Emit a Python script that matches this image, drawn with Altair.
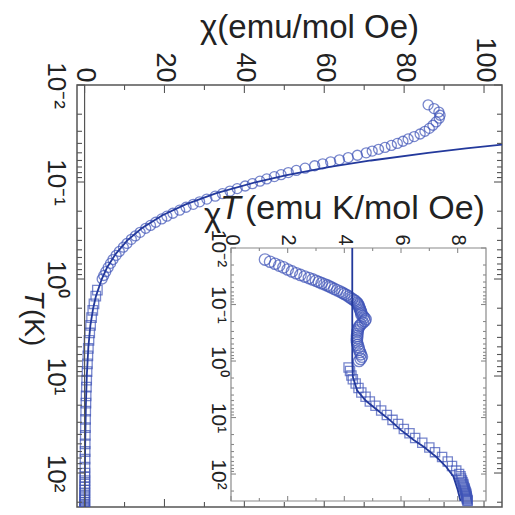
import altair as alt
import pandas as pd

FONT = "Liberation Sans"
BLUE = "#3f54b8"
LINE = "#23399c"
FRAME = "#555555"
IFRAME = "#8a8a8a"

# ---------------- data ----------------
# low-temperature points (circles), shared temperature grid
T_circ = [0.016, 0.0175, 0.019, 0.0205, 0.022, 0.024, 0.026, 0.028, 0.030, 0.032,
          0.034, 0.036, 0.038, 0.040, 0.042, 0.044, 0.046, 0.048, 0.050, 0.053,
          0.056, 0.059, 0.062, 0.065, 0.068, 0.072, 0.076, 0.080, 0.084, 0.088,
          0.093, 0.098, 0.104, 0.110, 0.117, 0.124, 0.132, 0.140, 0.150, 0.160,
          0.170, 0.182, 0.195, 0.21, 0.225, 0.24, 0.26, 0.28, 0.30, 0.33,
          0.36, 0.39, 0.43, 0.47, 0.52, 0.57, 0.63, 0.69, 0.76, 0.84, 0.92, 1.0]
chi_circ = [86, 87.5, 88.7, 89, 88.8, 88, 87.2, 86.3, 85.2, 84,
            82.5, 81, 79.7, 78.3, 76.8, 75.2, 73.6, 72, 70.5, 68.3,
            66, 63.8, 61.6, 59.6, 57.6, 55.2, 53, 51, 49.2, 47.5,
            45.6, 43.9, 42, 40.2, 38.2, 36.4, 34.5, 32.7, 30.6, 28.8,
            27.2, 25.4, 23.8, 22.1, 20.6, 19.3, 17.8, 16.5, 15.3, 13.9,
            12.7, 11.7, 10.6, 9.7, 8.7, 7.9, 7.1, 6.5, 5.9, 5.3, 4.8, 4.4]
chiT_circ = [1.2, 1.38, 1.55, 1.7, 1.85, 2.0, 2.15, 2.3, 2.45, 2.6,
             2.75, 2.88, 3.0, 3.1, 3.2, 3.3, 3.4, 3.48, 3.55, 3.65,
             3.75, 3.85, 3.93, 4.0, 4.08, 4.15, 4.22, 4.28, 4.35, 4.4,
             4.45, 4.48, 4.5, 4.52, 4.54, 4.56, 4.58, 4.6, 4.6, 4.65,
             4.7, 4.75, 4.72, 4.65, 4.58, 4.54, 4.5, 4.48, 4.47, 4.46,
             4.45, 4.45, 4.44, 4.45, 4.47, 4.5, 4.52, 4.55, 4.58, 4.62, 4.58, 4.52]

# higher-temperature points (squares)
T_sq = [1.3, 1.5, 1.8, 2.1, 2.5, 3.0, 3.6, 4.3, 5.2, 6.2, 7.5, 9, 11, 13, 16, 19,
        23, 28, 34, 41, 50, 60, 72, 87,
        100, 110, 120, 130, 140, 150, 160, 170, 180, 190, 200, 210, 220, 230,
        240, 250, 260, 270, 280, 290, 300]
chi_sq = [3.2, 2.8, 2.35, 2.05, 1.75, 1.5, 1.28, 1.1, 0.94, 0.82, 0.71, 0.61, 0.52,
          0.45, 0.38, 0.33, 0.28, 0.24, 0.21, 0.18, 0.15, 0.13, 0.11, 0.092,
          0.081, 0.074, 0.068, 0.063, 0.059, 0.055, 0.052, 0.049, 0.046, 0.044,
          0.041, 0.040, 0.038, 0.036, 0.035, 0.033, 0.032, 0.031, 0.030, 0.029, 0.028]
chiT_sq = [4.15, 4.2, 4.25, 4.3, 4.4, 4.5, 4.6, 4.75, 4.9, 5.1, 5.3, 5.5, 5.7,
           5.9, 6.1, 6.3, 6.5, 6.75, 7.0, 7.2, 7.45, 7.65, 7.8, 7.95,
           8.05, 8.1, 8.12, 8.15, 8.17, 8.2, 8.2, 8.22, 8.25, 8.25,
           8.27, 8.28, 8.3, 8.3, 8.3, 8.32, 8.32, 8.33, 8.33, 8.35, 8.35]

# fitted curves
T_fit = [0.038, 0.04, 0.045, 0.05, 0.06, 0.07, 0.085, 0.1, 0.13, 0.17, 0.22, 0.3, 0.4,
         0.55, 0.75, 1, 1.5, 2, 3, 5, 10, 20, 50, 100, 300]
chi_fit = [113, 107.5, 95.5, 86, 71.7, 61.4, 50.6, 43, 33, 25.3, 19.5, 14.3, 10.7,
           7.8, 5.7, 4.3, 2.85, 2.15, 1.45, 0.95, 0.55, 0.32, 0.15, 0.08, 0.028]
T_fit_in = [0.01, 1.0, 1.9, 3.3, 5, 7.3, 11, 16.7, 25, 33, 50, 75, 110, 190, 300]
chiT_fit_in = [4.28, 4.28, 4.3, 4.45, 4.75, 5.15, 5.6, 6.0, 6.45, 6.8, 7.25, 7.6,
               7.85, 8.0, 8.1]

# axis ticks / labels
main_x_labels = [0, 20, 40, 60, 80, 100]
main_x_minor = [10, 30, 50, 70, 90]
inset_x_labels = [0, 2, 4, 6, 8]
inset_x_minor = [1, 3, 5, 7]
log_labels = [0.01, 0.1, 1, 10, 100]
log_minor = [2, 3, 4, 5, 6, 7, 8, 9]

main_minor = [m * d for d in [0.01, 0.1, 1, 10, 100] for m in log_minor if m * d < 224]
inset_minor = [m * d for d in [0.01, 0.1, 1, 10, 100] for m in log_minor if m * d < 300]

W, H = 425, 422
IX = [154, 409]
IY = [163, 416]

label_expr = ("datum.value < 0.05 ? '10\u207b\u00b2' : datum.value < 0.5 ? '10\u207b\u00b9' : "
              "datum.value < 5 ? '10\u2070' : datum.value < 50 ? '10\u00b9' : '10\u00b2'")

xs = alt.Scale(domain=[-1.9, 104.5], nice=False, zero=False)
ys = alt.Scale(type="log", domain=[0.01, 224], reverse=True, nice=False)
xi = alt.Scale(domain=[0, 9], range=IX, nice=False, zero=False)
yi = alt.Scale(type="log", domain=[0.01, 300], range=IY, nice=False)

main_x_axis = alt.Axis(orient="top", values=main_x_labels, labelAngle=90, labelAlign="right",
                       labelBaseline="middle", labelPadding=3, ticks=False, domain=False,
                       grid=False, labelFontSize=27, labelFont=FONT, labelColor="#222",
                       title="\u03c7(emu/mol Oe)", titleFont=FONT, titleFontSize=33,
                       titleFontWeight="normal", titleColor="#222", titleX=232, titleY=-48,
                       titleAlign="center", titleBaseline="alphabetic")
main_y_axis = alt.Axis(orient="left", values=log_labels, labelExpr=label_expr, labelAngle=90,
                       labelAlign="center", labelBaseline="top", labelPadding=9, ticks=False,
                       domain=False, grid=False, labelFontSize=26, labelFont=FONT,
                       labelColor="#222", title=None)
inset_x_axis = alt.Axis(orient="top", offset=-IY[0], values=inset_x_labels, labelAngle=90,
                        labelAlign="right", labelBaseline="middle", labelPadding=3, ticks=False,
                        domain=False, grid=False, labelFontSize=20, labelFont=FONT,
                        labelColor="#222", title=None)
inset_y_axis = alt.Axis(orient="left", offset=-IX[0], values=log_labels, labelExpr=label_expr,
                        labelAngle=90, labelAlign="center", labelBaseline="top", labelPadding=3,
                        ticks=False, domain=False, grid=False, labelFontSize=21, labelFont=FONT,
                        labelColor="#222", title=None)

df_mc = pd.DataFrame({"chi": chi_circ, "T": T_circ})
df_ms = pd.DataFrame({"chi": chi_sq, "T": T_sq})
df_mf = pd.DataFrame({"chi": chi_fit, "T": T_fit})
df_ic = pd.DataFrame({"chi": chiT_circ, "T": T_circ})
df_is = pd.DataFrame({"chi": chiT_sq, "T": T_sq})
df_if = pd.DataFrame({"chi": chiT_fit_in, "T": T_fit_in})


def xrule(vals, scale, y0, y1, color, sw=1.1):
    return alt.Chart(pd.DataFrame({"chi": vals})).mark_rule(color=color, strokeWidth=sw).encode(
        x=alt.X("chi:Q", scale=scale), y=alt.value(y0), y2=alt.value(y1))


def yrule(vals, scale, x0, x1, color, sw=1.1):
    return alt.Chart(pd.DataFrame({"T": vals})).mark_rule(color=color, strokeWidth=sw).encode(
        y=alt.Y("T:Q", scale=scale), x=alt.value(x0), x2=alt.value(x1))


def text(s, x, y, size, angle=0, style="normal", align="left", baseline="alphabetic"):
    return alt.Chart(pd.DataFrame({"s": [s]})).mark_text(
        font=FONT, fontSize=size, fontStyle=style, angle=angle, align=align,
        baseline=baseline, color="#222").encode(text="s:N", x=alt.value(x), y=alt.value(y))


# ---------------- main panel ----------------
main_layers = [
    alt.Chart(df_mc).mark_point(shape="circle", filled=False, size=100, strokeWidth=1.3,
                                color=BLUE, clip=True).encode(
        x=alt.X("chi:Q", scale=xs, axis=main_x_axis),
        y=alt.Y("T:Q", scale=ys, axis=main_y_axis)),
    alt.Chart(df_ms).mark_point(shape="square", filled=False, size=90, strokeWidth=1.3,
                                color=BLUE, clip=True).encode(
        x=alt.X("chi:Q", scale=xs), y=alt.Y("T:Q", scale=ys)),
    alt.Chart(df_mf).mark_line(color=LINE, strokeWidth=1.8, clip=True).encode(
        x=alt.X("chi:Q", scale=xs), y=alt.Y("T:Q", scale=ys), order="T:Q"),
    xrule([0], xs, 0, H, FRAME, 1.2),
    xrule(main_x_labels, xs, 0, 8, FRAME),
    xrule(main_x_minor, xs, 0, 5, FRAME),
    xrule(main_x_labels, xs, H, H - 8, FRAME),
    xrule(main_x_minor, xs, H, H - 5, FRAME),
    yrule(log_labels, ys, 0, 8, FRAME),
    yrule(main_minor, ys, 0, 5, FRAME),
    yrule(log_labels, ys, W, W - 8, FRAME),
    yrule(main_minor, ys, W, W - 5, FRAME),
    text("T", -44, 205, 28, angle=90, style="italic", baseline="middle"),
    text("(K)", -44, 224, 28, angle=90, baseline="middle"),
    text("\u03c7", 127, 141, 33),
    text("T", 143, 134, 34, style="italic"),
    text("(emu K/mol Oe)", 168, 134, 34),
]
main = alt.layer(*main_layers)

# ---------------- inset ----------------
inset_layers = [
    alt.Chart(pd.DataFrame({"a": [0]})).mark_rect(fill="white", stroke=IFRAME, strokeWidth=1.2).encode(
        x=alt.X(datum=0, type="quantitative", scale=xi, axis=inset_x_axis),
        x2=alt.X2(datum=9),
        y=alt.Y(datum=0.01, type="quantitative", scale=yi, axis=inset_y_axis),
        y2=alt.Y2(datum=300)),
    xrule(inset_x_labels, xi, IY[0], IY[0] + 5, IFRAME),
    xrule(inset_x_minor, xi, IY[0], IY[0] + 3, IFRAME),
    xrule(inset_x_labels, xi, IY[1], IY[1] - 5, IFRAME),
    xrule(inset_x_minor, xi, IY[1], IY[1] - 3, IFRAME),
    yrule(log_labels, yi, IX[0], IX[0] + 5, IFRAME),
    yrule(inset_minor, yi, IX[0], IX[0] + 3, IFRAME),
    yrule(log_labels, yi, IX[1], IX[1] - 5, IFRAME),
    yrule(inset_minor, yi, IX[1], IX[1] - 3, IFRAME),
    alt.Chart(df_ic).mark_point(shape="circle", filled=False, size=130, strokeWidth=1.3,
                                color=BLUE).encode(
        x=alt.X("chi:Q", scale=xi), y=alt.Y("T:Q", scale=yi)),
    alt.Chart(df_is).mark_point(shape="square", filled=False, size=85, strokeWidth=1.3,
                                color=BLUE).encode(
        x=alt.X("chi:Q", scale=xi), y=alt.Y("T:Q", scale=yi)),
    alt.Chart(df_if).mark_line(color=LINE, strokeWidth=1.8).encode(
        x=alt.X("chi:Q", scale=xi), y=alt.Y("T:Q", scale=yi), order="T:Q"),
]
inset = alt.layer(*inset_layers)

chart = alt.layer(main, inset).resolve_scale(x="independent", y="independent").properties(
    width=W, height=H,
    autosize=alt.AutoSizeParams(type="none"),
    padding={"left": 69, "top": 77, "right": 5, "bottom": 3},
    background="white",
).configure_view(stroke=FRAME, strokeWidth=1.5)

chart.save("out.html", embed_options={"renderer": "svg", "actions": False})
